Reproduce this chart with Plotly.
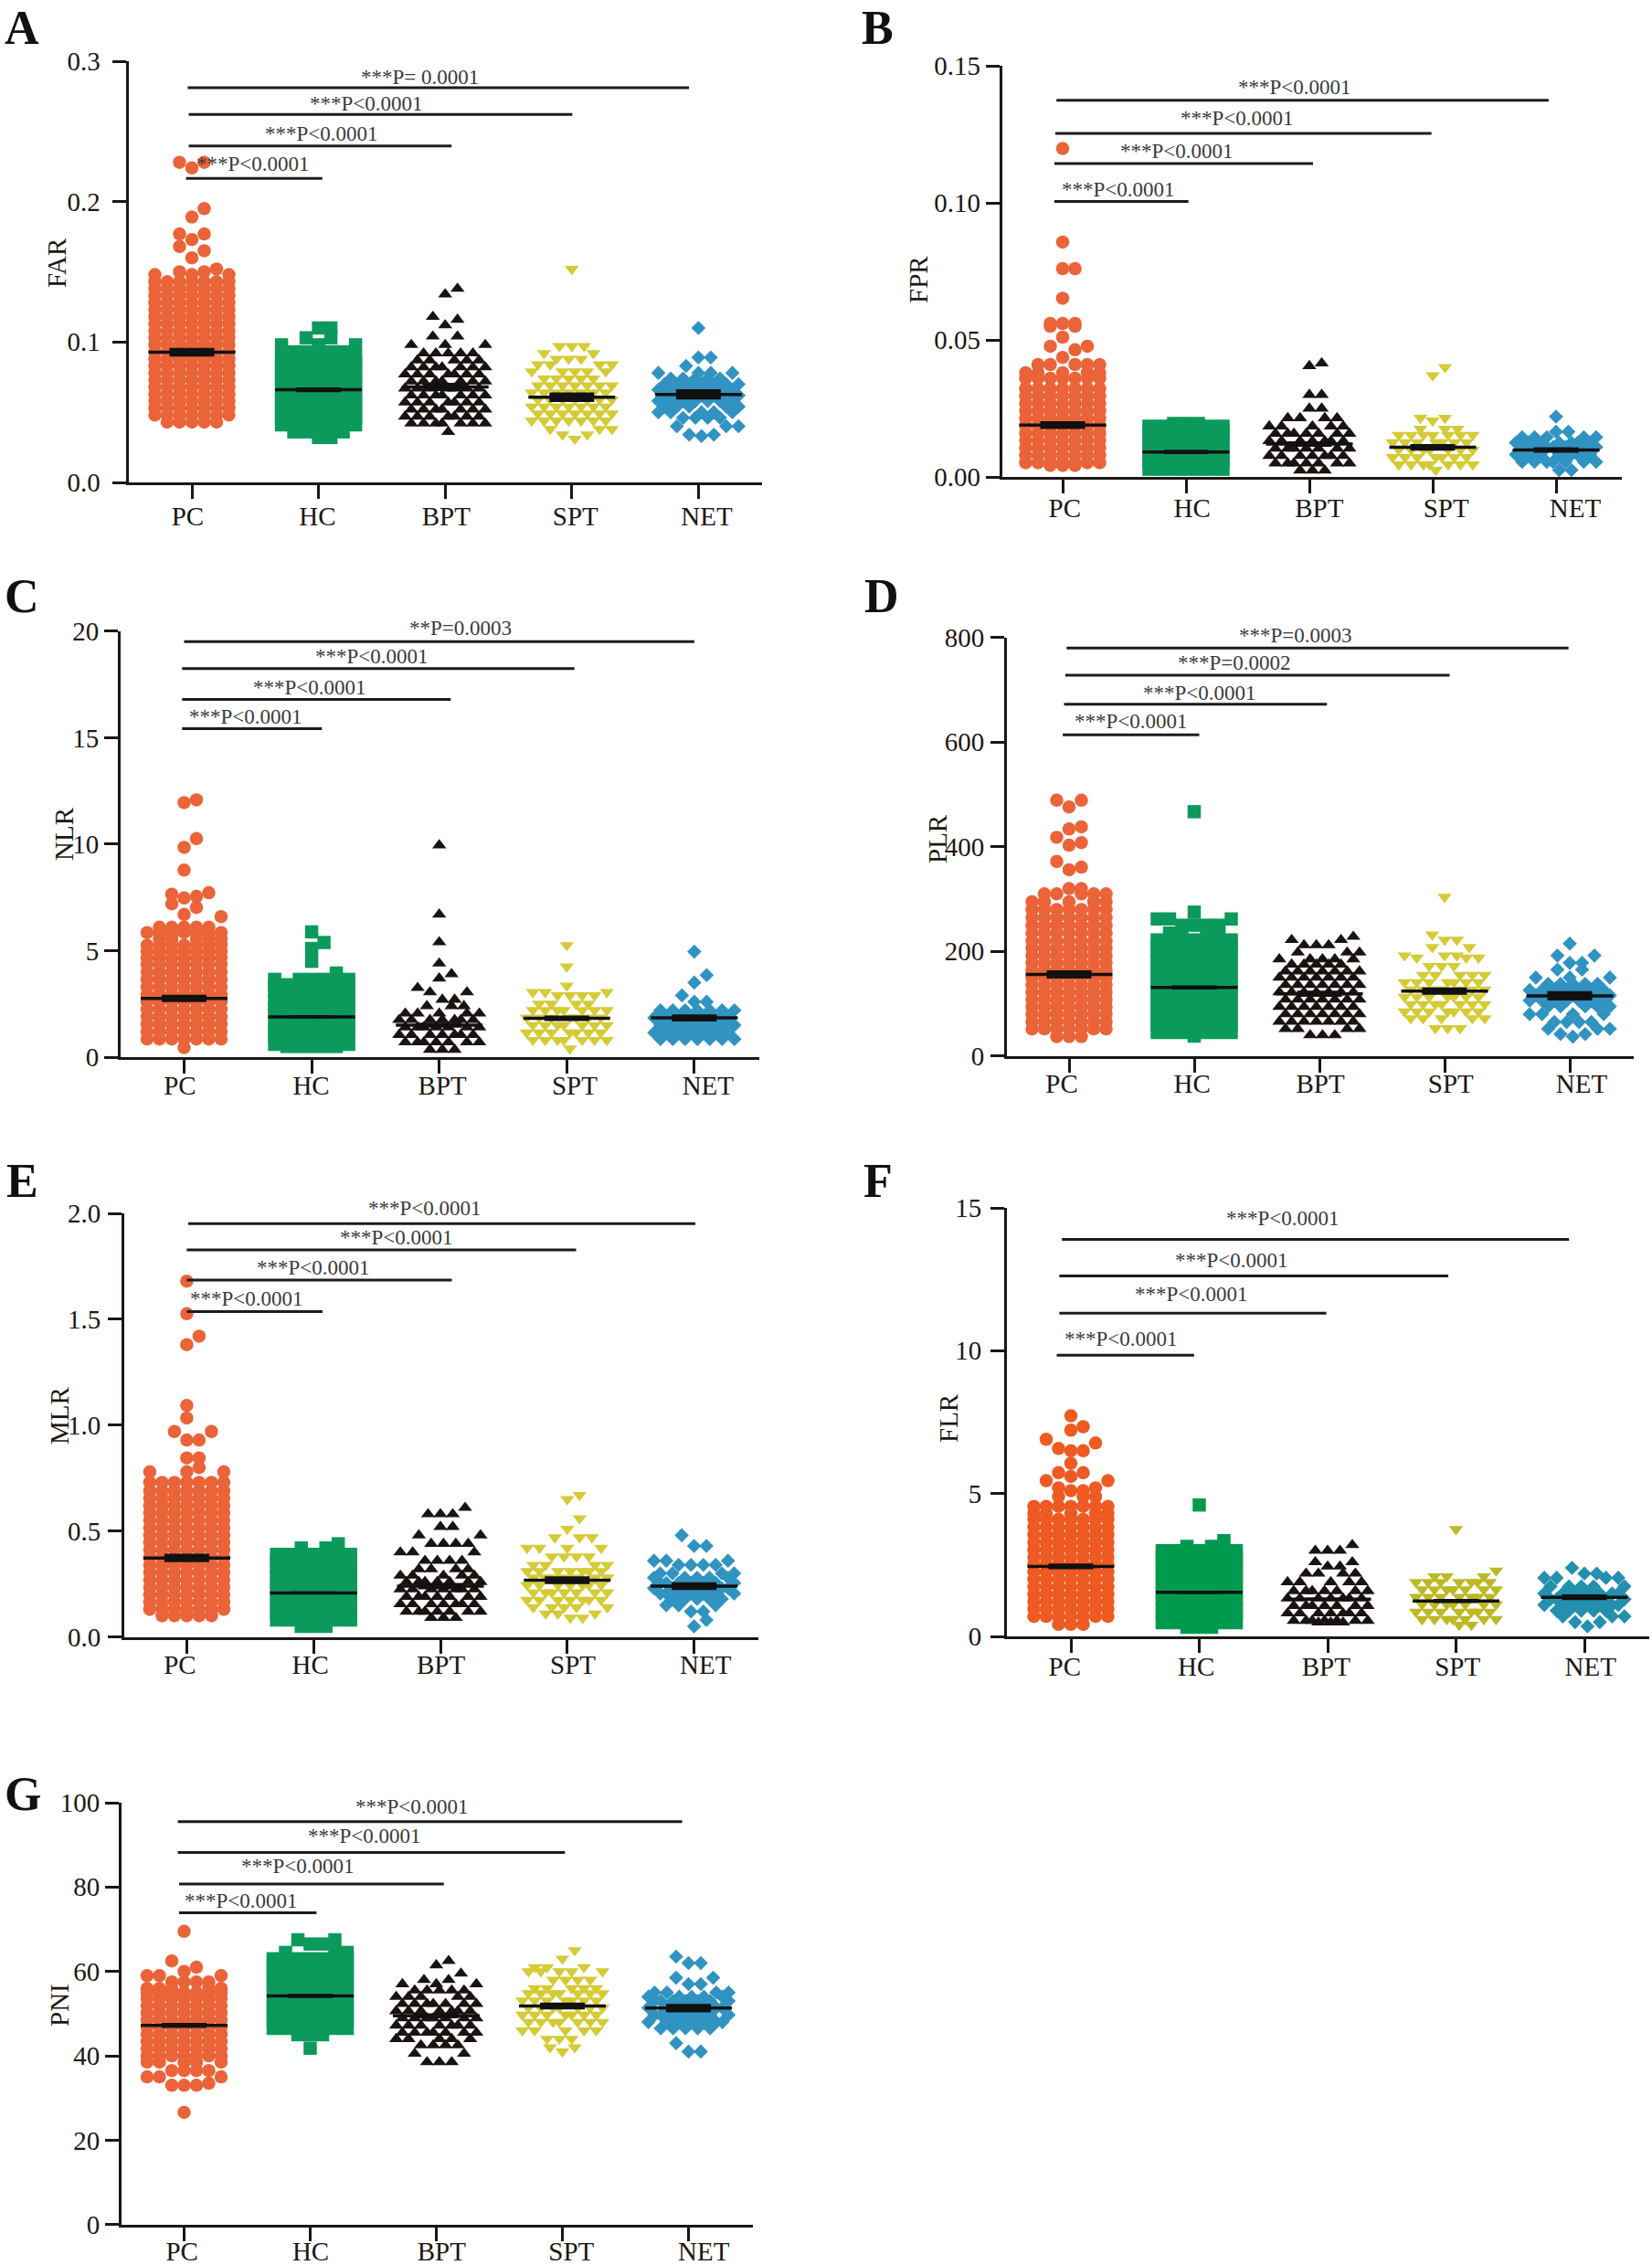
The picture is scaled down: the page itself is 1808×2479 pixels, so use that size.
import plotly.graph_objects as go

W, H = 1808, 2479
GROUPS = ["PC", "HC", "BPT", "SPT", "NET"]
SYMBOLS = ["circle", "square", "triangle-up", "triangle-down", "diamond"]
SIZES = [14.5, 14.5, 13.5, 13.5, 12]
STAGGER = [0, 0, .25, .25, .25]
COLORS = ["#EB6338", "#0B9A5C", "#1A1311", "#D4CB36", "#3093C1"]
COLORS_F = ["#EE5A22", "#009A4F", "#1A1311", "#BDB924", "#2290AE"]

# ---- FAR (A)
FAR_PC_V = [.043,.048,.053,.058,.063,.068,.073,.078,.083,.088,.093,.098,.103,.108,.113,.118,.123,.128,.133,.138,.143,.148,.150,.152,.160,.165,.168,.173,.177,.189,.195,.224,.228]
FAR_PC_N = [5,7,7,7,7,7,7,7,7,7,7,7,7,7,7,7,7,7,7,7,7,3,2,1,1,1,1,1,2,1,1,1,2]
FAR_HC_V = [.032,.036,.041,.046,.051,.056,.061,.066,.071,.076,.081,.086,.090,.093,.098,.103,.110]
FAR_HC_N = [2,3,7,7,7,7,7,7,7,7,7,7,7,5,3,2,2]
FAR_BPT_V = [.036,.042,.047,.052,.057,.062,.067,.072,.077,.082,.087,.092,.098,.104,.112,.116,.118,.134,.138]
FAR_BPT_N = [1,7,7,7,7,7,7,7,7,7,5,5,3,2,1,1,1,1,1]
FAR_SPT_V = [.031,.034,.038,.044,.049,.054,.059,.064,.069,.074,.079,.084,.088,.092,.097,.152]
FAR_SPT_N = [1,2,3,7,7,7,7,7,7,5,5,4,3,2,3,1]
FAR_NET_V = [.033,.034,.040,.046,.050,.054,.058,.062,.066,.070,.074,.078,.083,.089,.110]
FAR_NET_N = [1,2,3,4,5,5,7,7,7,7,5,4,1,2,1]
FAR_MEAN = [.0928,.066,.068,.0607,.0627]
FAR_SEM = [.0031,.0017,.0030,.0034,.0036]

# ---- FPR (B)
FPR_PC_V = [.0042,.0052,.0079,.0106,.0133,.016,.0187,.0214,.0241,.0268,.0295,.0322,.036,.038,.041,.0436,.0464,.0477,.051,.055,.056,.0652,.076,.0857,.1198]
FPR_PC_N = [3,7,7,7,7,7,7,7,7,7,7,7,7,5,5,1,1,2,1,2,3,1,2,1,1]
FPR_HC_V = [.0028,.0055,.0082,.0109,.0136,.0163,.0185,.0195]
FPR_HC_N = [7,7,7,7,7,7,7,3]
FPR_BPT_V = [.0024,.005,.0077,.0104,.0131,.0158,.0185,.0215,.025,.03,.0405,.0415]
FPR_BPT_N = [3,7,7,7,7,7,5,4,2,2,1,1]
FPR_SPT_V = [.0025,.0045,.0072,.0099,.0126,.0153,.0175,.0205,.0215,.037,.040]
FPR_SPT_N = [1,7,7,7,7,7,3,1,2,1,1]
FPR_NET_V = [.0025,.0055,.0082,.0109,.0125,.0145,.0165,.022]
FPR_NET_N = [2,7,7,7,7,5,2,1]
FPR_MEAN = [.0189,.0091,.012,.0108,.0098]
FPR_SEM = [.0014,.0008,.001,.0012,.001]

# ---- NLR (C)
NLR_PC_V = [.45,.85,1.2,1.55,1.9,2.25,2.6,2.95,3.3,3.65,4.0,4.35,4.65,4.95,5.25,5.55,5.85,6.1,6.6,6.7,7.03,7.2,7.47,7.55,7.65,7.72,8.78,9.85,10.26,11.95,12.08]
NLR_PC_N = [1,7,7,7,7,7,7,7,7,7,7,7,7,7,7,5,7,5,1,1,1,1,1,1,1,1,1,1,1,1,1]
NLR_HC_V = [.5,.6,.95,1.3,1.65,2.0,2.35,2.7,3.05,3.4,3.65,3.95,4.5,5.1,5.38,5.88]
NLR_HC_N = [5,7,7,7,7,7,7,7,7,7,5,1,1,1,1,1]
NLR_BPT_V = [.35,.7,1.05,1.4,1.75,2.05,2.4,2.7,3.05,3.25,3.7,3.9,4.4,5.4,6.7,9.95]
NLR_BPT_N = [3,7,7,7,7,5,3,2,2,1,1,1,1,1,1,1]
NLR_SPT_V = [.4,.8,1.15,1.5,1.85,2.2,2.5,2.9,3.05,3.35,4.25,5.25]
NLR_SPT_N = [1,7,7,7,7,7,4,4,3,1,1,1]
NLR_NET_V = [.85,1.15,1.5,1.85,2.2,2.6,2.9,3.5,3.85,4.95]
NLR_NET_N = [7,7,7,7,7,2,1,1,1,1]
NLR_MEAN = [2.76,1.89,1.5,1.82,1.84]
NLR_SEM = [.17,.08,.12,.13,.17]

# ---- PLR (D)
PLR_PC_V = [37,52,66,80,94,108,122,136,150,164,178,192,206,220,235,250,265,280,295,310,320,356,361,372,403,408,418,434,438,476,489]
PLR_PC_N = [3,7,7,7,7,7,7,7,7,7,7,7,7,7,7,7,7,7,5,5,2,1,1,1,1,1,1,1,1,1,2]
PLR_HC_V = [38,45,59,73,87,101,115,129,143,157,171,185,199,212,222,235,250,262,275,467]
PLR_HC_N = [1,7,7,7,7,7,7,7,7,7,7,7,7,7,7,4,4,3,1,1]
PLR_BPT_V = [40,52,66,80,94,108,122,136,150,162,175,185,198,212,222,228]
PLR_BPT_N = [3,4,7,7,7,7,7,7,7,7,5,5,3,3,2,1]
PLR_SPT_V = [53,72,85,99,113,127,141,155,172,188,192,208,222,232,304]
PLR_SPT_N = [3,5,7,7,7,7,7,5,3,3,3,2,2,1,1]
PLR_NET_V = [37,42,52,65,80,95,106,116,126,138,150,165,178,192,215]
PLR_NET_N = [1,2,3,4,4,5,7,7,7,5,3,2,2,2,1]
PLR_MEAN = [156,131,119,124,115]
PLR_SEM = [8,4,6,7,9]

# ---- MLR (E)
MLR_PC_V = [.10,.13,.165,.20,.235,.27,.305,.34,.375,.41,.445,.48,.515,.55,.585,.62,.655,.69,.73,.78,.80,.845,.93,.97,1.034,1.093,1.38,1.42,1.526,1.68]
MLR_PC_N = [5,7,7,7,7,7,7,7,7,7,7,7,7,7,7,7,7,7,7,3,1,2,2,2,1,1,1,1,1,1]
MLR_HC_V = [.05,.08,.115,.15,.185,.22,.255,.29,.325,.36,.39,.42,.44]
MLR_HC_N = [3,7,7,7,7,7,7,7,7,7,5,2,1]
MLR_BPT_V = [.09,.12,.155,.19,.225,.26,.29,.32,.36,.40,.44,.48,.52,.58,.61]
MLR_BPT_N = [3,7,7,7,7,7,5,4,4,3,4,2,2,3,1]
MLR_SPT_V = [.09,.11,.14,.175,.21,.245,.28,.31,.34,.38,.42,.47,.51,.56,.65,.67]
MLR_SPT_N = [2,3,5,7,7,7,7,7,4,4,4,3,1,1,1,1]
MLR_NET_V = [.05,.08,.12,.15,.18,.205,.23,.255,.28,.30,.34,.36,.43,.48]
MLR_NET_N = [1,1,2,3,5,7,7,7,5,4,4,3,2,1]
MLR_MEAN = [.373,.208,.24,.268,.24]
MLR_SEM = [.02,.007,.015,.018,.018]

# ---- FLR (F)
FLR_PC_V = [.42,.7,.96,1.22,1.48,1.74,2.0,2.26,2.52,2.78,3.04,3.3,3.56,3.82,4.1,4.3,4.55,4.9,5.1,5.2,5.45,5.6,5.73,6.06,6.5,6.58,6.77,6.9,7.22,7.34,7.72]
FLR_PC_N = [3,7,7,7,7,7,7,7,7,7,7,7,7,7,7,5,7,3,2,2,2,1,2,1,2,1,1,1,1,1,1]
FLR_HC_V = [.32,.48,.74,1.0,1.26,1.52,1.78,2.04,2.3,2.56,2.8,3.0,3.15,3.35,4.6]
FLR_HC_N = [3,7,7,7,7,7,7,7,7,7,7,5,2,1,1]
FLR_BPT_V = [.49,.55,.81,1.07,1.33,1.59,1.9,2.2,2.45,2.6,3.0,3.2]
FLR_BPT_N = [3,7,7,7,7,7,5,4,2,2,3,1]
FLR_SPT_V = [.4,.6,.86,1.12,1.38,1.64,1.9,2.1,2.3,3.75]
FLR_SPT_N = [2,7,7,7,7,7,7,3,1,1]
FLR_NET_V = [.35,.5,.7,.9,1.1,1.3,1.5,1.75,2.05,2.2,2.4]
FLR_NET_N = [1,2,3,5,7,7,7,5,4,2,1]
FLR_MEAN = [2.45,1.54,1.3,1.24,1.37]
FLR_SEM = [.1,.05,.06,.07,.1]

# ---- PNI (G)
PNI_PC_V = [26.6,33,33.5,35,36.5,38.5,40,41.7,43.4,45.1,46.8,48.5,50.2,51.9,53.6,55,56,57.5,59,60,61,62.5,69.5]
PNI_PC_N = [1,3,1,3,4,5,7,7,7,7,7,7,7,7,7,7,5,4,3,1,1,1,1]
PNI_HC_V = [41.8,45,46.5,48.2,49.9,51.6,53.3,55,56.7,58.4,60.1,61.5,63,64.5,66.5,67.5]
PNI_HC_N = [1,3,7,7,7,7,7,7,7,7,7,7,7,3,2,2]
PNI_BPT_V = [38.5,40.5,42.5,44,45.5,47.2,48.9,50.6,52.3,54,55.5,57,58,59.5,61.5,62.5]
PNI_BPT_N = [3,2,4,5,7,7,7,7,7,5,5,3,2,1,1,1]
PNI_SPT_V = [41,42,44,46,48,49.7,51.4,53.1,54.8,56,58,60,61,63,65]
PNI_SPT_N = [1,2,3,5,7,7,7,7,7,5,4,5,3,1,1]
PNI_NET_V = [41,43,46.5,48,49.7,51.4,53,54,55,57,58.5,62,63.5]
PNI_NET_N = [2,1,5,7,7,7,7,5,4,2,2,2,1]
PNI_MEAN = [47.2,54.2,49.5,51.8,51.3]
PNI_SEM = [.6,.5,.6,.8,1]

P_LT = "***P<0.0001"

PANELS = [
 dict(letter="A", letter_xy=(24,30), title="FAR", title_xy=(62,287), ymax=.3,
      yticks=[0,.1,.2,.3], ylabels=["0.0","0.1","0.2","0.3"], gap=7,
      yx=140.6, top=67, y0=528, x0=210, step=138.6, xend=833.5, lab_off=11,
      shift=[-.033,-.008,.008,.029,.066], colors=COLORS,
      data=[(FAR_PC_V,FAR_PC_N),(FAR_HC_V,FAR_HC_N),(FAR_BPT_V,FAR_BPT_N),(FAR_SPT_V,FAR_SPT_N),(FAR_NET_V,FAR_NET_N)],
      mean=FAR_MEAN, sem=FAR_SEM,
      brk_y=[.2812,.2621,.2397,.2165], brk_x=[(-.033,3.925),(-.025,3.004),(-.025,2.05),(-.046,1.03)],
      txt=["***P= 0.0001",P_LT,P_LT,P_LT], txt_x=[1.80,1.378,1.025,.481], txt_y=[.2887,.2695,.2481,.227]),
 dict(letter="B", letter_xy=(961,30), title="FPR", title_xy=(1005,306), ymax=.15,
      yticks=[0,.05,.1,.15], ylabels=["0.00","0.05","0.10","0.15"], gap=0,
      yx=1096.7, top=72, y0=522, x0=1163, step=135, xend=1775, lab_off=8,
      shift=[.017,.05,.08,.109,.155], colors=COLORS,
      data=[(FPR_PC_V,FPR_PC_N),(FPR_HC_V,FPR_HC_N),(FPR_BPT_V,FPR_BPT_N),(FPR_SPT_V,FPR_SPT_N),(FPR_NET_V,FPR_NET_N)],
      mean=FPR_MEAN, sem=FPR_SEM,
      brk_y=[.1374,.1253,.1143,.1005], brk_x=[(-.05,3.94),(-.06,2.99),(-.067,2.03),(-.067,1.02)],
      txt=[P_LT,P_LT,P_LT,P_LT], txt_x=[1.878,1.417,.927,.453], txt_y=[.1421,.1309,.1188,.1047]),
 dict(letter="C", letter_xy=(24,652), title="NLR", title_xy=(70,913), ymax=20,
      yticks=[0,5,10,15,20], ylabels=["0","5","10","15","20"], gap=0,
      yx=132, top=690.8, y0=1157, x0=201.5, step=139.6, xend=831, lab_off=5,
      shift=[-.033,-.004,.025,.062,.107], colors=COLORS,
      data=[(NLR_PC_V,NLR_PC_N),(NLR_HC_V,NLR_HC_N),(NLR_BPT_V,NLR_BPT_N),(NLR_SPT_V,NLR_SPT_N),(NLR_NET_V,NLR_NET_N)],
      mean=NLR_MEAN, sem=NLR_SEM,
      brk_y=[19.51,18.24,16.8,15.42], brk_x=[(0,4.0),(-.016,3.06),(-.016,2.09),(-.016,1.08)],
      txt=["**P=0.0003",P_LT,P_LT,P_LT], txt_x=[2.165,1.47,.984,.481], txt_y=[20.13,18.82,17.37,15.98]),
 dict(letter="D", letter_xy=(965,652), title="PLR", title_xy=(1026,918), ymax=800,
      yticks=[0,200,400,600,800], ylabels=["0","200","400","600","800"], gap=1,
      yx=1102, top=697.7, y0=1155.8, x0=1170, step=137, xend=1788, lab_off=4,
      shift=[-.058,-.017,.008,.05,.095], colors=COLORS,
      data=[(PLR_PC_V,PLR_PC_N),(PLR_HC_V,PLR_HC_N),(PLR_BPT_V,PLR_BPT_N),(PLR_SPT_V,PLR_SPT_N),(PLR_NET_V,PLR_NET_N)],
      mean=PLR_MEAN, sem=PLR_SEM,
      brk_y=[780,728,672.5,614], brk_x=[(-.02,3.99),(-.03,3.04),(-.04,2.06),(-.05,1.04)],
      txt=["***P=0.0003","***P=0.0002",P_LT,P_LT], txt_x=[1.81,1.32,1.045,.496], txt_y=[803.5,751,693,640]),
 dict(letter="E", letter_xy=(24,1292), title="MLR", title_xy=(65,1549), ymax=2,
      yticks=[0,.5,1,1.5,2], ylabels=["0.0","0.5","1.0","1.5","2.0"], gap=2,
      yx=136, top=1328, y0=1791.6, x0=204.4, step=138.8, xend=829.5, lab_off=5,
      shift=[-.054,-.025,.004,.045,.091], colors=COLORS,
      data=[(MLR_PC_V,MLR_PC_N),(MLR_HC_V,MLR_HC_N),(MLR_BPT_V,MLR_BPT_N),(MLR_SPT_V,MLR_SPT_N),(MLR_NET_V,MLR_NET_N)],
      mean=MLR_MEAN, sem=MLR_SEM,
      brk_y=[1.952,1.827,1.685,1.536], brk_x=[(.012,4.01),(0,3.07),(0,2.09),(0,1.07)],
      txt=[P_LT,P_LT,P_LT,P_LT], txt_x=[1.876,1.653,.996,.471], txt_y=[2.025,1.886,1.744,1.595]),
 dict(letter="F", letter_xy=(961,1292), title="FLR", title_xy=(1038,1552), ymax=15,
      yticks=[0,5,10,15], ylabels=["0","5","10","15"], gap=4,
      yx=1102, top=1322, y0=1791, x0=1172, step=140.5, xend=1805, lab_off=7,
      shift=[-.048,-.024,-.012,.012,.048], colors=COLORS_F,
      data=[(FLR_PC_V,FLR_PC_N),(FLR_HC_V,FLR_HC_N),(FLR_BPT_V,FLR_BPT_N),(FLR_SPT_V,FLR_SPT_N),(FLR_NET_V,FLR_NET_N)],
      mean=FLR_MEAN, sem=FLR_SEM,
      brk_y=[13.9,12.62,11.31,9.84], brk_x=[(-.07,3.88),(-.09,2.94),(-.09,1.99),(-.11,.96)],
      txt=[P_LT,P_LT,P_LT,P_LT], txt_x=[1.653,1.25,.94,.39], txt_y=[14.63,13.17,11.97,10.42]),
 dict(letter="G", letter_xy=(25,1963), title="PNI", title_xy=(65,2195), ymax=100,
      yticks=[0,20,40,60,80,100], ylabels=["0","20","40","60","80","100"], gap=0,
      yx=133, top=1973, y0=2434.7, x0=201.5, step=138, xend=824, lab_off=3,
      shift=[-.017,.004,.042,.071,.121], colors=COLORS,
      data=[(PNI_PC_V,PNI_PC_N),(PNI_HC_V,PNI_HC_N),(PNI_BPT_V,PNI_BPT_N),(PNI_SPT_V,PNI_SPT_N),(PNI_NET_V,PNI_NET_N)],
      mean=PNI_MEAN, sem=PNI_SEM,
      brk_y=[95.5,88.2,80.7,73.9], brk_x=[(-.05,3.95),(-.05,3.02),(-.04,2.06),(-.04,1.05)],
      txt=[P_LT,P_LT,P_LT,P_LT], txt_x=[1.81,1.433,.904,.454], txt_y=[99,92,85,76.8]),
]

COL_ORDER = [0, 1, -1, 2, -2, 3, -3]
COL_PX = 13.5
BIN_PX = 13.0
FONT = "Liberation Serif"
INK = "#1c1614"


def swarm(values, counts, bin_h, stagger):
    """Lay repeated values out in centred columns, as a binned dot plot does."""
    flat = sorted(v for v, n in zip(values, counts) for _ in range(n))
    bins, start = [], None
    for v in flat:
        if start is None or v - start >= bin_h or len(bins[-1]) == 7:
            bins.append([])
            start = v
        bins[-1].append(v)
    cols, ys = [], []
    for b, members in enumerate(bins):
        off = 0
        if len(members) >= 5:
            off = stagger if b % 2 == 0 else -stagger
        for used, v in enumerate(members):
            cols.append(COL_ORDER[used] + off)
            ys.append(v)
    return cols, ys


fig = go.Figure()
layout = dict(width=W, height=H, margin=dict(l=0, r=0, t=0, b=0, pad=0), autosize=False,
              paper_bgcolor="white", plot_bgcolor="rgba(0,0,0,0)", showlegend=False,
              font=dict(family=FONT, size=29, color=INK))
shapes, annos = [], []
NP = len(PANELS)

for idx, p in enumerate(PANELS):
    k = idx + 1
    kl = k + NP
    xr = [(p["yx"] - p["x0"]) / p["step"], (p["xend"] - p["x0"]) / p["step"]]
    dom_x = [p["yx"] / W, p["xend"] / W]
    dom_y = [1 - p["y0"] / H, 1 - p["top"] / H]
    bin_h = BIN_PX * p["ymax"] / (p["y0"] - p["top"])
    xn, yn = f"x{k}", f"y{k}"
    for g, (vals, cnts) in enumerate(p["data"]):
        cols, ys = swarm(vals, cnts, bin_h, STAGGER[g])
        fig.add_trace(go.Scatter(
            x=[g + c * COL_PX / p["step"] for c in cols], y=ys, mode="markers", name=GROUPS[g],
            xaxis=xn, yaxis=yn, cliponaxis=False,
            marker=dict(symbol=SYMBOLS[g], size=SIZES[g], color=p["colors"][g], line=dict(width=0))))
    for g in range(5):
        hw = 47.5 / p["step"]
        fig.add_trace(go.Scatter(
            x=[g - hw, g, g + hw], y=[p["mean"][g]] * 3, mode="lines", name=GROUPS[g] + " mean",
            xaxis=f"x{kl}", yaxis=yn, cliponaxis=False,
            line=dict(color="#111111", width=3.5),
            error_y=dict(type="data", array=[0, p["sem"][g], 0], thickness=49, width=0, color="#111111")))
    layout[f"xaxis{k}"] = dict(
        domain=dom_x, range=xr, anchor=yn, tickvals=list(range(5)), ticktext=[""] * 5,
        ticks="outside", ticklen=15, tickwidth=3, tickcolor=INK, showline=True, linewidth=3,
        linecolor=INK, showgrid=False, zeroline=False, automargin=False)
    layout[f"xaxis{kl}"] = dict(
        domain=dom_x, range=xr, anchor=yn, overlaying=xn, side="bottom",
        tickvals=[g + s for g, s in enumerate(p["shift"])], ticktext=GROUPS,
        ticks="outside", ticklen=p["lab_off"], tickcolor="rgba(0,0,0,0)", showline=False,
        showgrid=False, zeroline=False, automargin=False,
        tickfont=dict(family=FONT, size=29, color=INK))
    layout[f"yaxis{k}"] = dict(
        domain=dom_y, range=[0, p["ymax"]], anchor=xn, tickvals=p["yticks"], ticktext=p["ylabels"],
        ticks="outside", ticklen=15, tickwidth=3, tickcolor=INK, showline=True, linewidth=3,
        linecolor=INK, showgrid=False, zeroline=False, ticklabelstandoff=p["gap"], automargin=False,
        tickfont=dict(family=FONT, size=29, color=INK))
    for yv, (xa, xb) in zip(p["brk_y"], p["brk_x"]):
        shapes.append(dict(type="line", xref=xn, yref=yn, x0=xa, x1=xb, y0=yv, y1=yv,
                           line=dict(color="#1c1c1c", width=3)))
    # P-value texts may sit above the axis top, so they are placed in paper space
    for t, tx, ty in zip(p["txt"], p["txt_x"], p["txt_y"]):
        px = (p["x0"] + tx * p["step"]) / W
        py = 1 - (p["y0"] - ty / p["ymax"] * (p["y0"] - p["top"])) / H
        annos.append(dict(text=t, x=px, y=py, xref="paper", yref="paper", showarrow=False,
                          xanchor="center", yanchor="middle",
                          font=dict(family=FONT, size=23, color="#3a3a3a")))
    lx, ly = p["letter_xy"]
    annos.append(dict(text=f"<b>{p['letter']}</b>", x=lx / W, y=1 - ly / H, xref="paper", yref="paper",
                      showarrow=False, xanchor="center", yanchor="middle",
                      font=dict(family=FONT, size=52, color="#111111")))
    tx, ty = p["title_xy"]
    annos.append(dict(text=p["title"], x=tx / W, y=1 - ty / H, xref="paper", yref="paper",
                      showarrow=False, textangle=-90, xanchor="center", yanchor="middle",
                      font=dict(family=FONT, size=29, color=INK)))

layout["shapes"] = shapes
layout["annotations"] = annos
fig.update_layout(**layout)
fig.write_html("out.html", config={"displayModeBar": False},
               post_script="document.body.style.margin='0';document.documentElement.style.overflow='hidden';")
